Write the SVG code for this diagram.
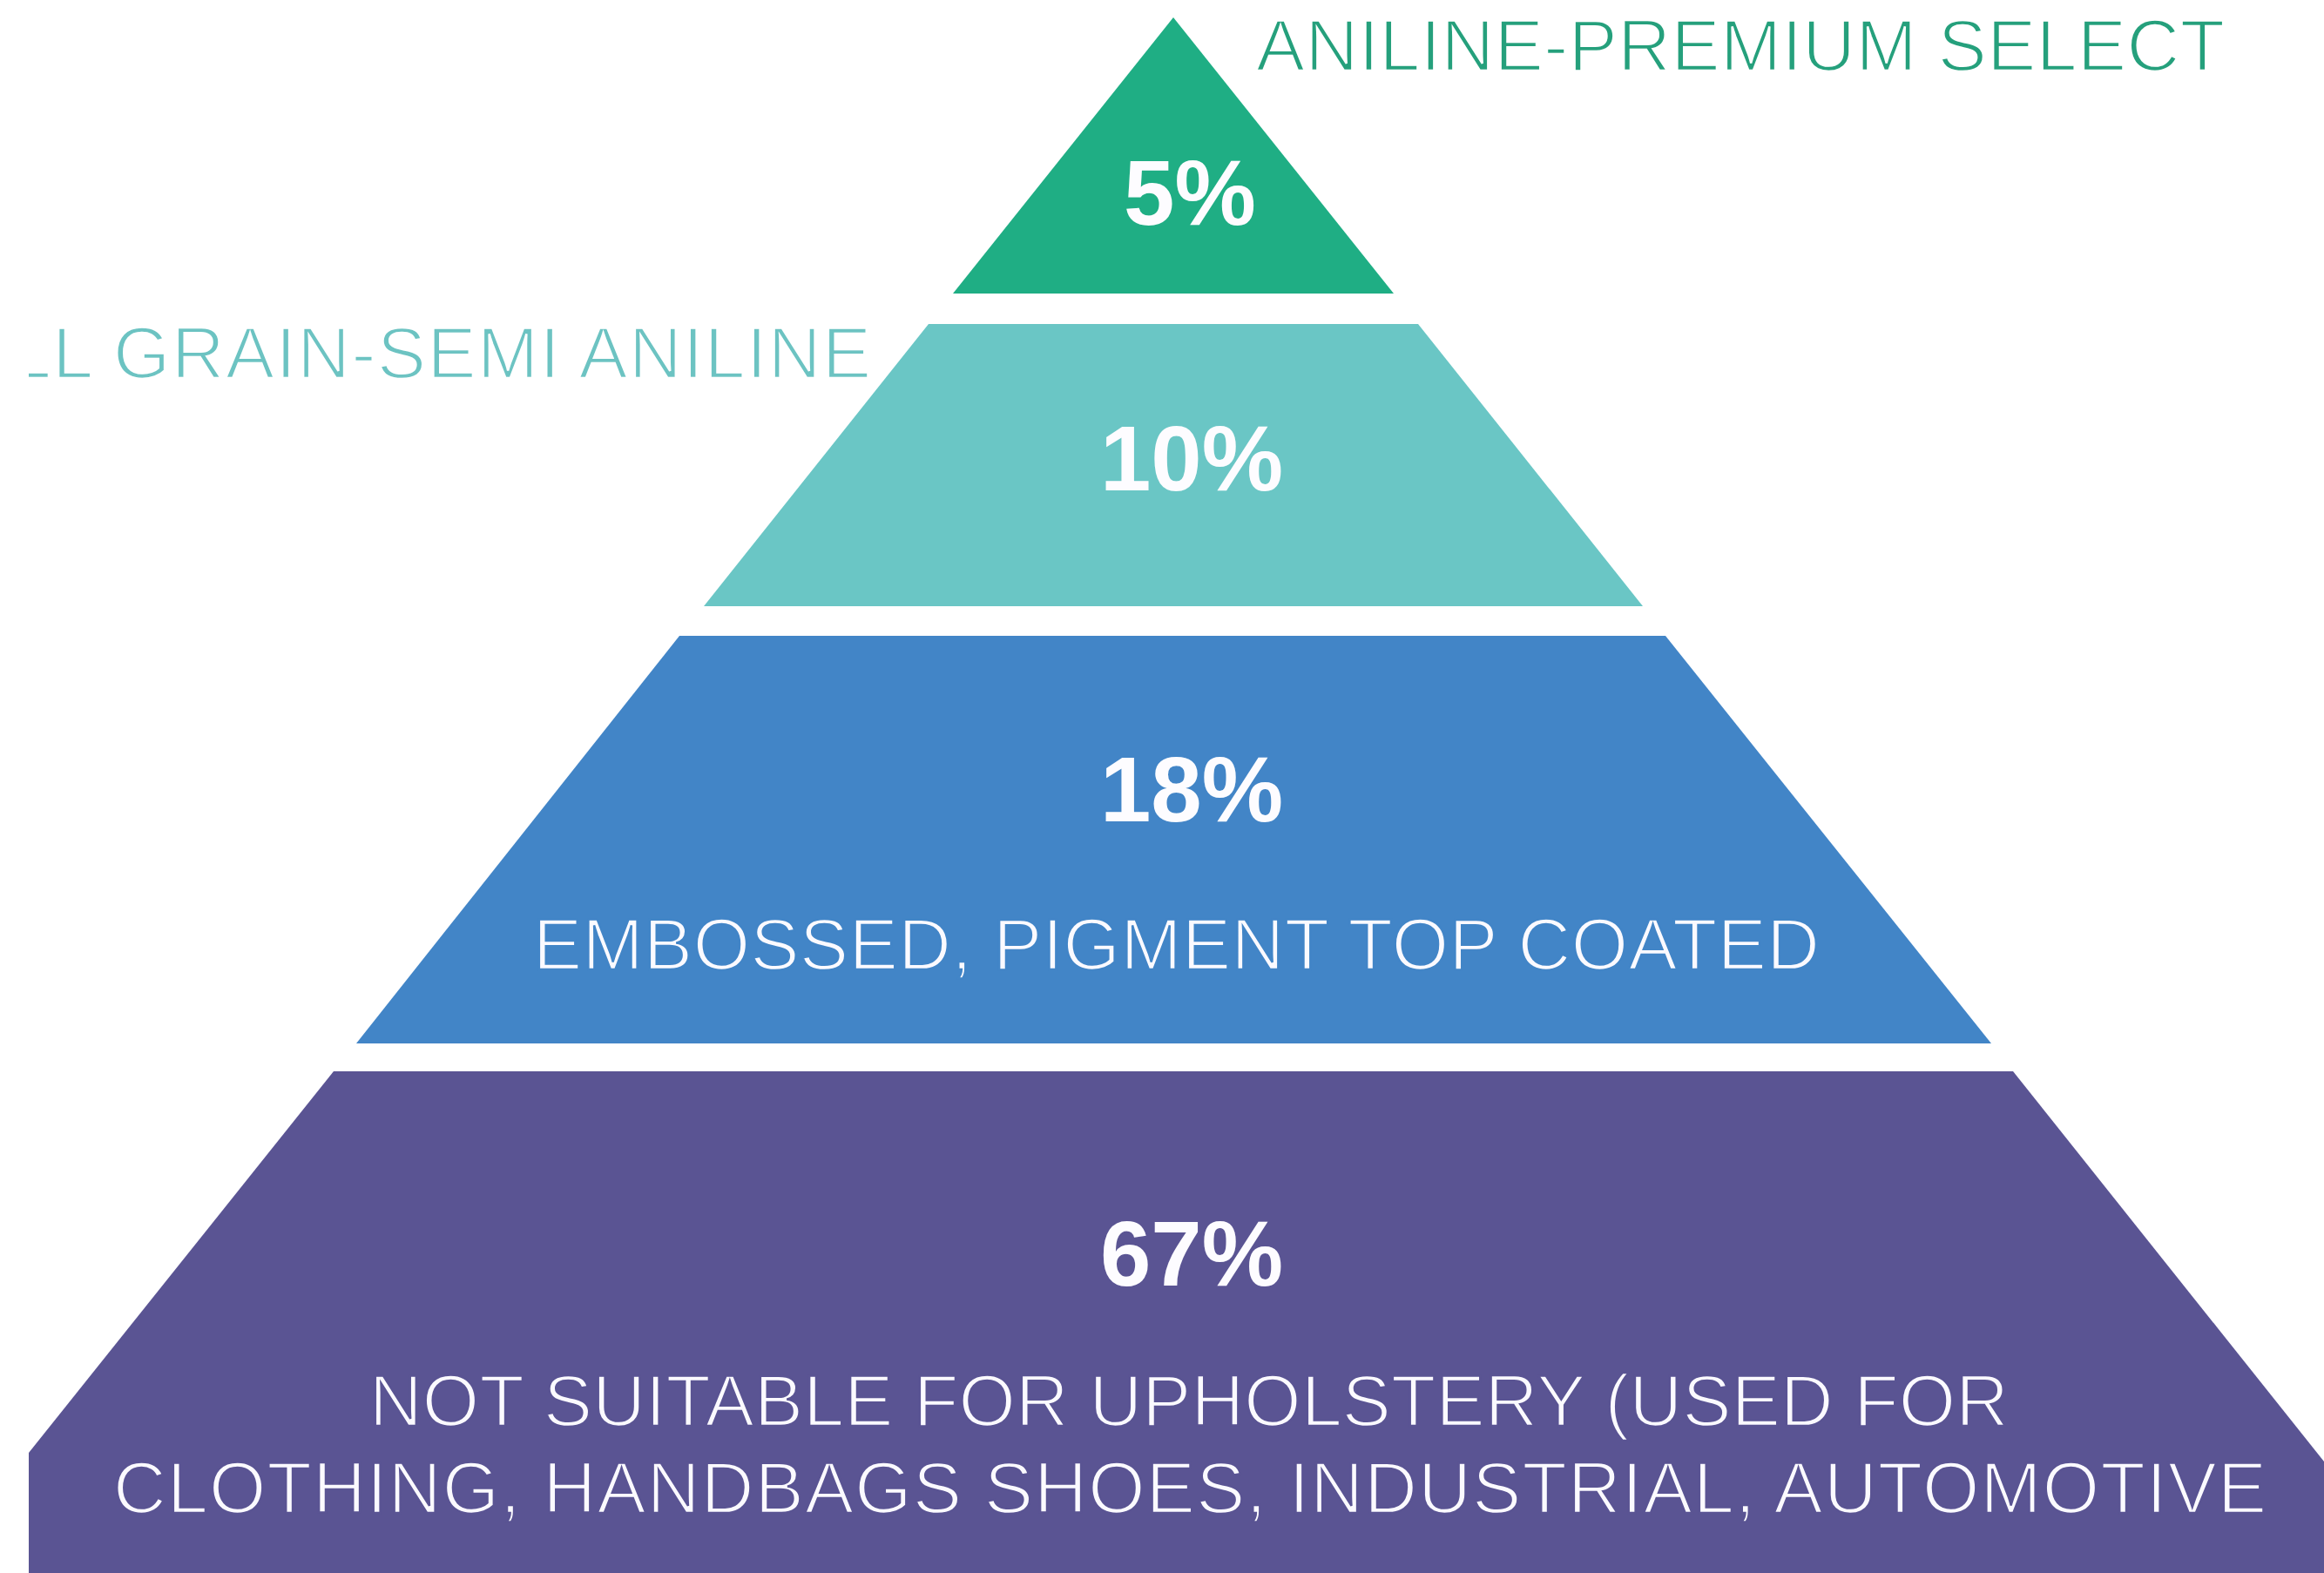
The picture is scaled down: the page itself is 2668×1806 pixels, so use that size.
<svg xmlns="http://www.w3.org/2000/svg" width="2668" height="1806" viewBox="0 0 2668 1806">
  <defs>
    <clipPath id="frame">
      <rect x="33" y="0" width="2635" height="1806"/>
    </clipPath>
  </defs>
  <style>
    .pct { font-family: "Liberation Sans", Arial, sans-serif; font-weight: 700; font-size: 105px; fill: #fdfcff; text-anchor: middle; }
    .lite { font-family: "Liberation Sans", Arial, sans-serif; font-weight: 400; font-size: 84px; stroke-width: 2.4px; }
    .inner { fill: #fbfaff; }
  </style>
  <rect x="0" y="0" width="2668" height="1806" fill="#ffffff"/>
  <g clip-path="url(#frame)">
    <g id="tier-aniline">
      <polygon points="1347,20 1094,337 1600,337" fill="#1fae84"/>
      <text class="pct" x="1366" y="258">5%</text>
      <text class="lite" x="1442" y="81" textLength="1112" lengthAdjust="spacing" fill="#25a07c" stroke="#ffffff">ANILINE-PREMIUM SELECT</text>
    </g>
    <g id="tier-semi-aniline">
      <polygon points="1066,372 1628,372 1886,696 808,696" fill="#6ac6c5"/>
      <text class="pct" x="1368" y="563">10%</text>
      <text class="lite" x="12" y="434" textLength="988" lengthAdjust="spacing" fill="#6cc3c2" stroke="#ffffff">LL GRAIN-SEMI ANILINE</text>
    </g>
    <g id="tier-embossed">
      <polygon points="780,730 1912,730 2286,1198 409,1198" fill="#4285c7"/>
      <text class="pct" x="1368" y="943">18%</text>
      <text class="lite inner" x="612" y="1113" textLength="1477" lengthAdjust="spacing" stroke="#4285c7">EMBOSSED, PIGMENT TOP COATED</text>
    </g>
    <g id="tier-not-suitable">
      <polygon points="383,1230 2311,1230 2668,1678 2668,1806 33,1806 33,1668" fill="#5a5493"/>
      <text class="pct" x="1368" y="1476">67%</text>
      <text class="lite inner" x="424" y="1637" textLength="1882" lengthAdjust="spacing" stroke="#5a5493">NOT SUITABLE FOR UPHOLSTERY (USED FOR</text>
      <text class="lite inner" x="130" y="1737" textLength="2472" lengthAdjust="spacing" stroke="#5a5493">CLOTHING, HANDBAGS SHOES, INDUSTRIAL, AUTOMOTIVE</text>
    </g>
  </g>
</svg>
